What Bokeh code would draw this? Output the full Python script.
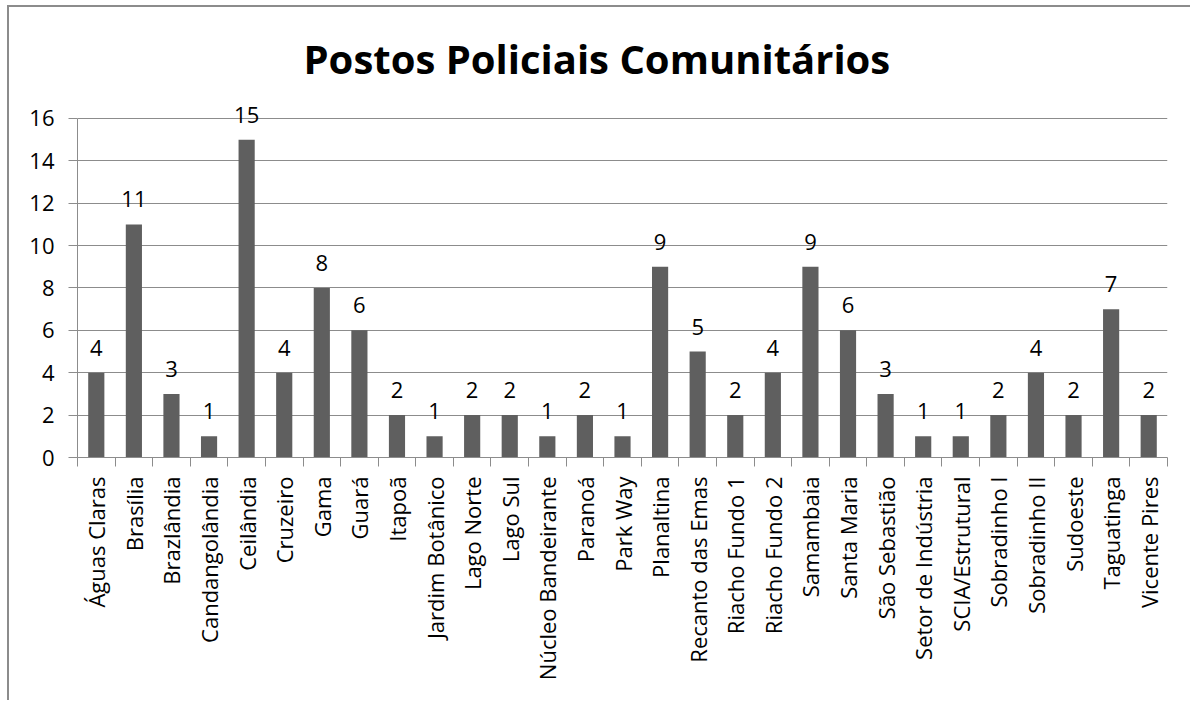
import math
from bokeh.plotting import figure
from bokeh.models import Range1d, FixedTicker, LabelSet, ColumnDataSource, Title
from bokeh.core.properties import value
from bokeh.embed import file_html
from bokeh.resources import INLINE

categories = ["Águas Claras", "Brasília", "Brazlândia", "Candangolândia", "Ceilândia",
              "Cruzeiro", "Gama", "Guará", "Itapoã", "Jardim Botânico", "Lago Norte",
              "Lago Sul", "Núcleo Bandeirante", "Paranoá", "Park Way", "Planaltina",
              "Recanto das Emas", "Riacho Fundo 1", "Riacho Fundo 2", "Samambaia",
              "Santa Maria", "São Sebastião", "Setor de Indústria", "SCIA/Estrutural",
              "Sobradinho I", "Sobradinho II", "Sudoeste", "Taguatinga", "Vicente Pires"]
values = [4, 11, 3, 1, 15, 4, 8, 6, 2, 1, 2, 2, 1, 2, 1, 9, 5, 2, 4, 9, 6, 3, 1, 1, 2, 4, 2, 7, 2]
y_ticks = [0, 2, 4, 6, 8, 10, 12, 14, 16]
title_text = "Postos Policiais Comunitários"

FONT = "Open Sans"
GRID = "#8c8c8c"

n = len(categories)
centers = [i + 0.5 for i in range(n)]
bounds = list(range(n + 1))

src = ColumnDataSource(dict(x=centers, top=values, lbl=[str(v) for v in values]))

p = figure(width=1183, height=695, x_range=Range1d(0, n), y_range=Range1d(0, 16.99),
           output_backend="svg", toolbar_location=None,
           min_border_left=68, min_border_right=25, min_border_top=90, min_border_bottom=245)
p.styles = {"margin-left": "7px", "margin-top": "5px",
            "border-left": "2px solid #8c8c8c", "border-top": "2px solid #8c8c8c"}

p.title = Title(text=title_text, align="left", offset=226, text_font=FONT,
                text_font_size="40px", text_font_style="bold", text_color="#000000",
                standoff=24)
p.outline_line_color = None
p.background_fill_color = "white"
p.border_fill_color = "white"

p.vbar(x="x", top="top", width=0.43, source=src, fill_color="#5f5f5f", line_color=None)

labels = LabelSet(x="x", y="top", text="lbl", source=src, y_offset=17,
                  text_align="center", text_baseline="alphabetic",
                  text_font=value(FONT), text_font_size="22px", text_color="#000000")
p.add_layout(labels)

# x axis
xa = p.xaxis[0]
xa.ticker = FixedTicker(ticks=centers, minor_ticks=bounds)
xa.major_label_overrides = {c: name for c, name in zip(centers, categories)}
xa.major_tick_out = 0
xa.major_tick_in = 0
xa.minor_tick_out = 9
xa.minor_tick_in = 0
xa.minor_tick_line_color = GRID
xa.axis_line_color = GRID
xa.major_label_orientation = math.pi / 2
xa.major_label_standoff = 10
xa.major_label_text_font = FONT
xa.major_label_text_font_size = "22px"
xa.major_label_text_color = "#000000"

# y axis
ya = p.yaxis[0]
ya.ticker = FixedTicker(ticks=y_ticks)
ya.bounds = (0, 16)
ya.major_tick_out = 9
ya.major_tick_in = 0
ya.minor_tick_line_color = None
ya.major_tick_line_color = GRID
ya.axis_line_color = GRID
ya.major_label_standoff = 14
ya.major_label_text_font = FONT
ya.major_label_text_font_size = "22px"
ya.major_label_text_color = "#000000"

p.xgrid.grid_line_color = None
p.ygrid.ticker = FixedTicker(ticks=y_ticks)
p.ygrid.grid_line_color = GRID
p.ygrid.grid_line_width = 1

open("out.html", "w").write(file_html(p, INLINE))
